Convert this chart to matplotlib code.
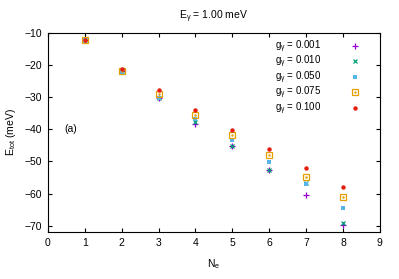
import matplotlib.pyplot as plt
import numpy as np

plt.rcParams['font.family'] = ['Liberation Sans', 'DejaVu Sans']
plt.rcParams['mathtext.fontset'] = 'custom'
plt.rcParams['mathtext.rm'] = 'Liberation Sans'
plt.rcParams['mathtext.it'] = 'Liberation Sans'

# number of electrons
n_e = [1, 2, 3, 4, 5, 6, 7, 8]

# total energy (meV) for each coupling g_gamma
e_001 = [-12.3, -22.0, -30.4, -38.3, -45.2, -52.7, -60.5, -69.7]
e_010 = [-12.3, -22.0, -30.4, -37.6, -45.2, -52.7, -56.6, -69.3]
e_050 = [-12.3, -22.4, -30.1, -36.7, -43.2, -50.2, -57.1, -64.4]
e_075 = [-12.3, -21.9, -28.9, -35.6, -41.8, -48.1, -54.7, -61.2]
e_100 = [-12.1, -21.2, -27.9, -34.0, -40.2, -46.0, -52.1, -58.0]

labels = ['g$_\\gamma$ = 0.001', 'g$_\\gamma$ = 0.010', 'g$_\\gamma$ = 0.050',
          'g$_\\gamma$ = 0.075', 'g$_\\gamma$ = 0.100']

fig = plt.figure(figsize=(3.99, 2.79), dpi=100)
ax = fig.add_axes([0.12, 0.168, 0.832, 0.714])

h1, = ax.plot(n_e, e_001, ls='none', marker='+', color='#9400d3', ms=4, mew=0.9)
h2, = ax.plot(n_e, e_010, ls='none', marker='x', color='#009e73', ms=3.5, mew=0.9)
h3, = ax.plot(n_e, e_050, ls='none', marker='s', color='#56b4e9', ms=3.5, mew=0)
h4a, = ax.plot(n_e, e_075, ls='none', marker='s', color='#e69f00', mfc='none', ms=4, mew=0.9)
h4b, = ax.plot(n_e, e_075, ls='none', marker='.', color='#e69f00', ms=1.5)
h5, = ax.plot(n_e, e_100, ls='none', marker='o', color='#e51e10', ms=3.2, mew=0)

ax.set_xlim(0, 9)
ax.set_ylim(-72, -10)
ax.set_xticks(range(0, 10))
ax.set_yticks(range(-70, -9, 10))
ax.tick_params(direction='in', top=True, right=True, labelsize=7.5, length=3, pad=4)
ax.set_xlabel('N$_\\mathrm{e}$', fontsize=7.5, labelpad=7)
ax.set_ylabel('E$_\\mathrm{tot}$ (meV)', fontsize=7.5, labelpad=5)
ax.set_title('E$_\\gamma$ = 1.00 meV', fontsize=7.5, pad=10)
ax.text(0.45, -40, '(a)', fontsize=7.5, va='center')

ax.legend([h1, h2, h3, (h4a, h4b), h5], labels, loc='upper right',
          bbox_to_anchor=(0.991, 1.03), frameon=False,
          markerfirst=False, fontsize=7, handletextpad=2.5, labelspacing=-0.1,
          borderaxespad=0.9, borderpad=0.3)

fig.savefig('out.png', dpi=100)
